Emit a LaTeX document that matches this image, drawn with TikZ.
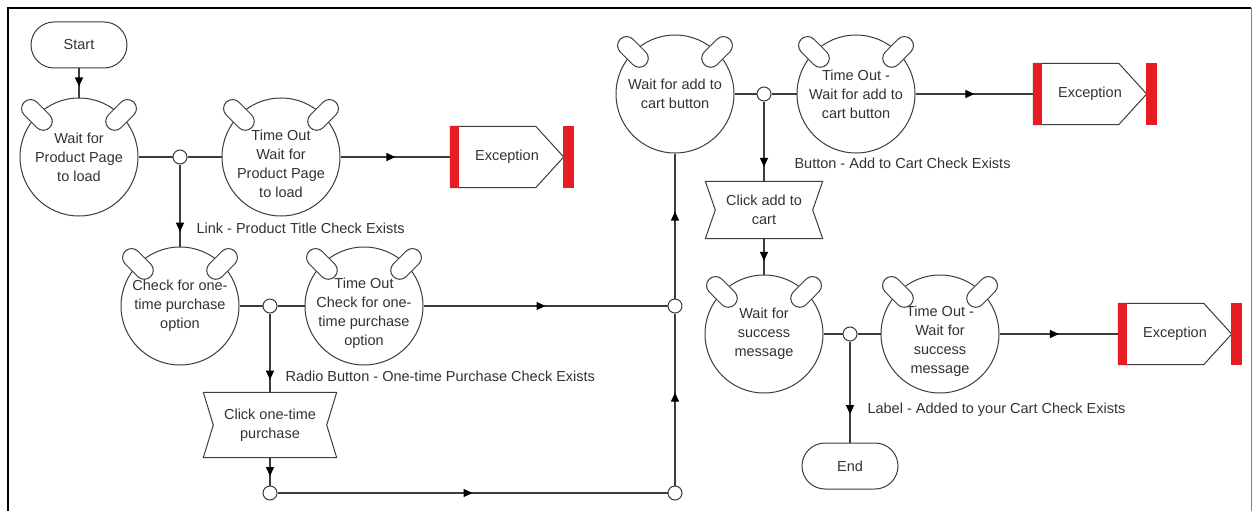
\documentclass[tikz,border=0pt]{standalone}
\usepackage{fontspec}
\setmainfont{Liberation Sans}
\usepackage{xcolor}
\usetikzlibrary{arrows.meta,decorations.markings}
\definecolor{exred}{RGB}{232,28,36}
\definecolor{ink}{RGB}{60,60,60}
\definecolor{txt}{RGB}{50,50,50}

\begin{document}
\begin{tikzpicture}[x=1pt, y=-1pt,
  font=\fontsize{14.5}{19}\selectfont, text=txt,
  state/.style={draw=ink, circle, line width=1pt, minimum size=118pt, inner sep=0pt, align=center, fill=white},
  low/.style={label={[align=center, inner sep=0pt, yshift=-7pt, text=txt]center:{#1}}},
  ear/.style={draw=ink, fill=white, line width=1pt, rounded corners=9pt, minimum width=36pt, minimum height=18pt, inner sep=0pt},
  dot/.style={draw=ink, circle, fill=white, line width=1pt, minimum size=14pt, inner sep=0pt},
  term/.style={draw=ink, rounded corners=23pt, minimum width=96pt, minimum height=46pt, line width=1pt},
  act/.style={inner sep=0pt, align=center},
  exc/.style={inner sep=0pt, minimum width=113pt, minimum height=61pt},
  edge/.style={draw=ink, line width=1pt},
  flow/.style={ink, line width=1.1pt},
  arrowat/.style={postaction={decorate, decoration={markings, mark=at position #1 with {\arrow[black]{Triangle[length=9pt,width=8pt]}}}}},
  lbl/.style={anchor=west, inner sep=0pt, text=txt}]
  \useasboundingbox (0,0) rectangle (1253,511);
  % frame
  \draw[black, line width=2pt] (8,511) -- (8,8) -- (1251,8);
  \draw[gray, line width=1pt] (1251,8) -- (1251,511);
  % product page
  \node[term]  (start) at (79,45)   {Start};
  \node[state] (w1)    at (79,157)  {Wait for\\Product Page\\to load};
  \node[dot]   (j1)    at (180,157) {};
  \node[state, low={Time Out\\Wait for\\Product Page\\to load}] (t1) at (281,157) {};
  \node[exc]   (e1)    at (507,157) {Exception};
  % one-time purchase
  \node[state] (w2) at (180,306) {Check for one-\\time purchase\\option};
  \node[dot]   (j2) at (270,306) {};
  \node[state, low={Time Out\\Check for one-\\time purchase\\option}] (t2) at (364,306) {};
  \node[act, minimum width=133pt, minimum height=65pt] (c1) at (270,425) {Click one-time\\purchase};
  \node[dot]   (j3) at (270,493) {};
  \node[dot]   (k1) at (675,306) {};
  \node[dot]   (k2) at (675,493) {};
  % add to cart
  \node[state] (w3) at (675,94)  {Wait for add to\\cart button};
  \node[dot]   (j4) at (764,94)  {};
  \node[state] (t3) at (856,94)  {Time Out -\\Wait for add to\\cart button};
  \node[exc]   (e2) at (1090,94) {Exception};
  \node[act, minimum width=117pt, minimum height=57pt] (c2) at (764,210) {Click add to\\cart};
  % success message
  \node[state] (w4) at (764,334)  {Wait for\\success\\message};
  \node[dot]   (j5) at (850,334)  {};
  \node[state, low={Time Out -\\Wait for\\success\\message}] (t4) at (940,334) {};
  \node[exc]   (e3) at (1175,334) {Exception};
  \node[term]  (stop) at (850,466) {End};
  % ears, click shapes, exception shapes
  \foreach \c in {w1,t1,w2,t2,w3,t3,w4,t4} {
    \node[ear, rotate=-45] at (\c.135) {};
    \node[ear, rotate=45]  at (\c.45)  {};
  }
  \foreach \a in {c1,c2}
    \draw[edge] (\a.north west) -- (\a.north east) -- ([xshift=-10pt]\a.east) -- (\a.south east)
      -- (\a.south west) -- ([xshift=10pt]\a.west) -- cycle;
  \foreach \e in {e1,e2,e3} {
    \draw[edge] (\e.north west) -- ([xshift=-28pt]\e.north east) -- (\e.east)
      -- ([xshift=-28pt]\e.south east) -- (\e.south west) -- cycle;
    \fill[exred] (\e.north west) rectangle ([xshift=9pt]\e.south west);
    \fill[exred] ([xshift=-1pt]\e.north east) rectangle ([xshift=10pt]\e.south east);
  }
  % connectors
  \draw[flow, arrowat=0.62] (start.south) -- (w1.north);
  \draw[flow] (w1.east) -- (j1.west);
  \draw[flow] (j1.east) -- (t1.west);
  \draw[flow, arrowat=0.5] (t1.east) -- (e1.west);
  \draw[flow, arrowat=0.82] (j1.south) -- node[lbl, pos=0.78, xshift=16pt] {Link - Product Title Check Exists} (w2.north);
  \draw[flow] (w2.east) -- (j2.west);
  \draw[flow] (j2.east) -- (t2.west);
  \draw[flow, arrowat=0.5] (t2.east) -- (k1.west);
  \draw[flow, arrowat=0.84] (j2.south) -- node[lbl, pos=0.8, xshift=15pt] {Radio Button - One-time Purchase Check Exists} (c1.north);
  \draw[flow, arrowat=0.66] (c1.south) -- (j3.north);
  \draw[flow, arrowat=0.5] (j3.east) -- (k2.west);
  \draw[flow, arrowat=0.54] (k2.north) -- (k1.south);
  \draw[flow, arrowat=0.6] (k1.north) -- (w3.south);
  \draw[flow] (w3.east) -- (j4.west);
  \draw[flow] (j4.east) -- (t3.west);
  \draw[flow, arrowat=0.5] (t3.east) -- (e2.west);
  \draw[flow, arrowat=0.82] (j4.south) -- node[lbl, pos=0.78, xshift=30pt] {Button - Add to Cart Check Exists} (c2.north);
  \draw[flow, arrowat=0.62] (c2.south) -- (w4.north);
  \draw[flow] (w4.east) -- (j5.west);
  \draw[flow] (j5.east) -- (t4.west);
  \draw[flow, arrowat=0.5] (t4.east) -- (e3.west);
  \draw[flow, arrowat=0.72] (j5.south) -- node[lbl, pos=0.68, xshift=17pt] {Label - Added to your Cart Check Exists} (stop.north);
\end{tikzpicture}
\end{document}
